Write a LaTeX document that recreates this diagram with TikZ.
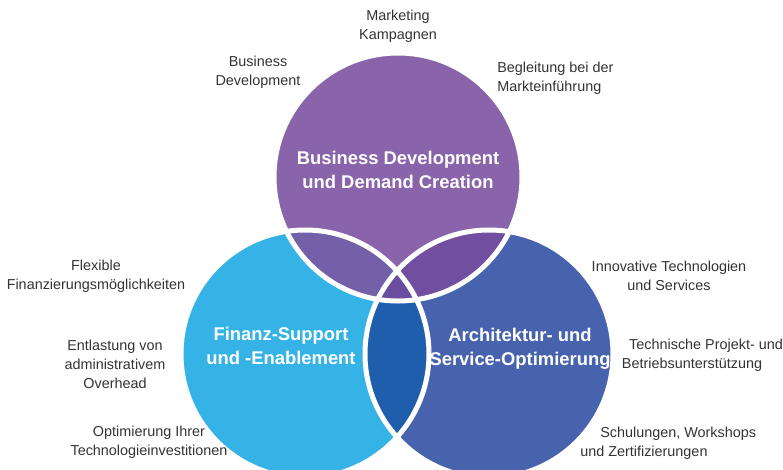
\documentclass[tikz,border=0pt]{standalone}
\usepackage{fontspec}
\setmainfont{Liberation Sans}
\usetikzlibrary{positioning}

\begin{document}
\begin{tikzpicture}
            [x=0.75pt, y=-0.75pt,
            ring/.style={white, line width=3.75pt},
            note/.style={text=black!80, align=center, inner sep=0pt, font=\fontsize{10.8}{14}\selectfont},
            title/.style={text=white, align=center, inner sep=0pt, font=\fontsize{13.8}{18}\selectfont\bfseries},
            ]
            \colorlet{topcolor}{rgb,255:red,137;green,100;blue,170}
            \colorlet{leftcolor}{rgb,255:red,53;green,179;blue,230}
            \colorlet{rightcolor}{rgb,255:red,72;green,99;blue,174}
            \colorlet{tlcolor}{rgb,255:red,116;green,96;blue,168}
            \colorlet{trcolor}{rgb,255:red,113;green,78;blue,160}
            \colorlet{lrcolor}{rgb,255:red,31;green,94;blue,173}
            \colorlet{midcolor}{rgb,255:red,106;green,77;blue,158}
            \useasboundingbox (0,0) rectangle (783,469);

            \coordinate (T) at (398,177);
            \coordinate (L) at (305,354);
            \coordinate (R) at (489,354);
            \def\rad{124}

            % circles
            \begin{scope}
                \clip (0,0) rectangle (783,469);
                \fill[topcolor] (T) circle (\rad);
                \fill[leftcolor] (L) circle (\rad);
                \fill[rightcolor] (R) circle (\rad);
                \begin{scope}
                    \clip (T) circle (\rad);
                    \fill[tlcolor] (L) circle (\rad);
                    \fill[trcolor] (R) circle (\rad);
                \end{scope}
                \begin{scope}
                    \clip (L) circle (\rad);
                    \fill[lrcolor] (R) circle (\rad);
                    \clip (R) circle (\rad);
                    \fill[midcolor] (T) circle (\rad);
                \end{scope}
                \draw[ring] (T) circle (\rad);
                \draw[ring] (L) circle (\rad);
                \draw[ring] (R) circle (\rad);
            \end{scope}

            % titles
            \node[title] (bdtitle) at (398,170) {Business Development\\und Demand Creation};
            \node[title] (fintitle) at (281,346) {Finanz-Support\\und -Enablement};
            \node[title] (archtitle) at (520,349) {Architektur- und\\Service-Optimierung};

            % notes
            \node[note] (mkt) at (398,26.5) {Marketing\\Kampagnen};
            \node[note] (bizdev) at (258,72) {Business\\Development};
            \node[note, align=left, anchor=west] (launch) at (497,78.5) {Begleitung bei der\\Markteinführung};
            \node[note] (flex) at (96,276.5) {Flexible\\Finanzierungsmöglichkeiten};
            \node[note] (admin) at (115,364.5) {Entlastung von\\administrativem\\Overhead};
            \node[note] (invest) at (149,442.5) {Optimierung Ihrer\\Technologieinvestitionen};
            \node[note] (innov) at (669,276) {Innovative Technologien\\und Services};
            \node[note] (support) at (692,355) {Technische Projekt-\rlap{\ und}\\Betriebsunterstützung};
            \node[note, align=left, anchor=west] (training) at (580,443) {\hspace*{15pt}Schulungen, Workshops\\und Zertifizierungen};
        \end{tikzpicture}
\end{document}
